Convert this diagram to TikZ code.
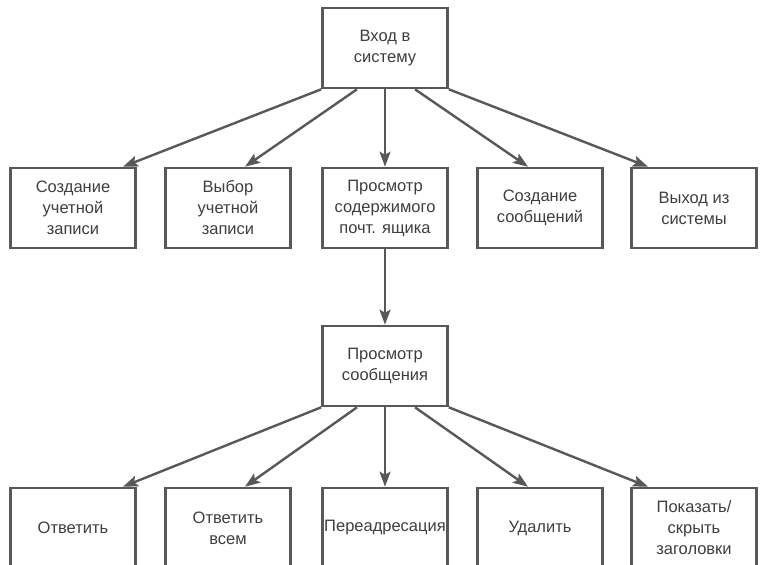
\documentclass[tikz,border=0pt]{standalone}
\usepackage{fontspec}
\setmainfont{Liberation Sans}
\usetikzlibrary{arrows.meta}
\definecolor{ink}{RGB}{88,88,88}
\definecolor{txt}{RGB}{62,62,62}
\tikzset{
  box/.style={draw=ink, line width=2.6pt, minimum width=125pt, minimum height=80pt,
    align=center, font=\fontsize{16.5}{21}\selectfont, text=txt, inner sep=0pt},
  arr/.style={draw=ink, line width=2.4pt, -{Stealth[length=15pt,width=11pt,inset=3pt]}}
}
\begin{document}
\begin{tikzpicture}[x=1pt,y=-1pt]
\useasboundingbox (0,0) rectangle (766,565);
\clip (0,0) rectangle (766,565);
\node[box] (top) at (385,48) {Вход в\\систему};
\node[box] (a1) at (73,208) {Создание\\учетной\\записи};
\node[box] (a2) at (228,208) {Выбор\\учетной\\записи};
\node[box] (a3) at (385,208) {Просмотр\\содержимого\\почт. ящика};
\node[box] (a4) at (540,208) {Создание\\сообщений};
\node[box] (a5) at (694,208) {Выход из\\системы};
\node[box] (mid) at (385,366) {Просмотр\\сообщения};
\node[box] (b1) at (73,528) {Ответить};
\node[box] (b2) at (228,528) {Ответить\\всем};
\node[box] (b3) at (385,528) {Переадресация};
\node[box] (b4) at (540,528) {Удалить};
\node[box] (b5) at (694,528) {Показать/\\скрыть\\заголовки};
\draw[arr] (top.south west) -- ([xshift=50pt]a1.north);
\draw[arr] ([xshift=-28pt]top.south) -- ([xshift=17pt]a2.north);
\draw[arr] (top.south) -- (a3.north);
\draw[arr] ([xshift=30pt]top.south) -- ([xshift=-12pt]a4.north);
\draw[arr] (top.south east) -- ([xshift=-46pt]a5.north);
\draw[arr] (a3.south) -- (mid.north);
\draw[arr] (mid.south west) -- ([xshift=50pt]b1.north);
\draw[arr] ([xshift=-28pt]mid.south) -- ([xshift=17pt]b2.north);
\draw[arr] (mid.south) -- (b3.north);
\draw[arr] ([xshift=30pt]mid.south) -- ([xshift=-12pt]b4.north);
\draw[arr] (mid.south east) -- ([xshift=-46pt]b5.north);
\end{tikzpicture}
\end{document}
